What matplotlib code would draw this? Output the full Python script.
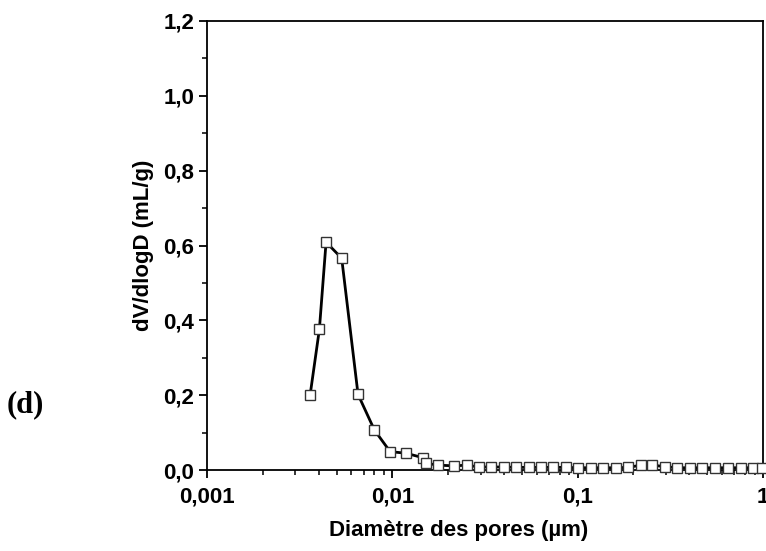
import numpy as np
import matplotlib.pyplot as plt
from matplotlib.ticker import LogLocator, MultipleLocator, NullFormatter

# pore size distribution
diam = [0.0036, 0.00404, 0.00439, 0.00533, 0.00653, 0.0080, 0.00973, 0.0118,
        0.0146, 0.0152, 0.0177, 0.0216, 0.0252, 0.0294, 0.0341, 0.0401, 0.0465,
        0.0545, 0.0637, 0.0739, 0.0863, 0.1009, 0.1177, 0.1376, 0.161, 0.188,
        0.219, 0.253, 0.295, 0.344, 0.403, 0.471, 0.551, 0.646, 0.759, 0.881, 0.99]
dvdlogd = [0.200, 0.376, 0.609, 0.566, 0.202, 0.107, 0.049, 0.045,
           0.033, 0.018, 0.013, 0.011, 0.013, 0.008, 0.008, 0.008, 0.007,
           0.007, 0.007, 0.007, 0.007, 0.006, 0.006, 0.006, 0.006, 0.007,
           0.013, 0.013, 0.009, 0.006, 0.006, 0.006, 0.006, 0.006, 0.006, 0.006, 0.006]

xticks = [0.001, 0.01, 0.1, 1]
xlabels = ["0,001", "0,01", "0,1", "1"]
yticks = [0.0, 0.2, 0.4, 0.6, 0.8, 1.0, 1.2]
ylabels = ["0,0", "0,2", "0,4", "0,6", "0,8", "1,0", "1,2"]

plt.rcParams['font.family'] = ['Liberation Sans', 'DejaVu Sans']

fig = plt.figure(figsize=(7.66, 5.51), dpi=100)
ax = fig.add_axes([207/766, 1-470/551, 556/766, 449/551])

ax.plot(diam, dvdlogd, '-s', color='black', lw=2.0, ms=6.5,
        mfc='white', mec='#333333', mew=1.0, clip_on=False, zorder=3)

ax.set_xscale('log')
ax.set_xlim(0.001, 1)
ax.set_ylim(0, 1.2)
ax.set_xticks(xticks)
ax.set_xticklabels(xlabels, fontsize=16, fontweight='bold')
ax.xaxis.set_minor_locator(LogLocator(base=10, subs=np.arange(2, 10)))
ax.xaxis.set_minor_formatter(NullFormatter())
ax.set_yticks(yticks)
ax.set_yticklabels(ylabels, fontsize=16, fontweight='bold')
ax.yaxis.set_minor_locator(MultipleLocator(0.1))

ax.tick_params(which='major', direction='out', length=6, width=1.3, top=False, right=False)
ax.tick_params(which='minor', direction='out', length=3.5, width=1.1, top=False, right=False)
ax.tick_params(axis='x', which='major', pad=6)
ax.tick_params(axis='y', which='major', pad=3)
for s in ax.spines.values():
    s.set_linewidth(1.3)

ax.set_xlabel("Diamètre des pores (µm)", fontsize=16, fontweight='bold', labelpad=9)
ax.xaxis.label.set_x(0.452)
ax.set_ylabel("dV/dlogD (mL/g)", fontsize=16, fontweight='bold', labelpad=7)

fig.text(7/766, 1-405/551, "(d)", fontsize=22, fontweight='bold',
         family=['Liberation Serif', 'DejaVu Serif'], va='center')

fig.savefig("out.png", dpi=100)
